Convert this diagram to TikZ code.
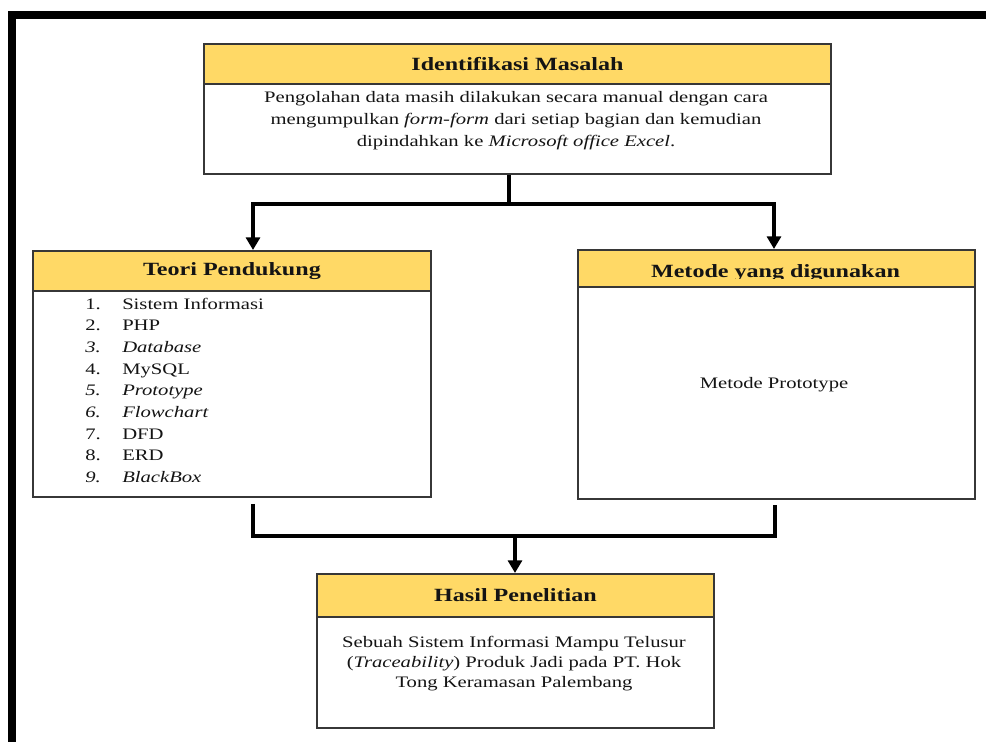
\documentclass[tikz,border=0pt]{standalone}
\usepackage{fontspec}
\setmainfont[FakeStretch=1.29]{Liberation Serif}
\usetikzlibrary{arrows.meta,calc}
\definecolor{hdrgold}{RGB}{255,217,102}
\definecolor{boxline}{RGB}{55,55,55}
\definecolor{inktext}{RGB}{20,20,20}

\begin{document}
\begin{tikzpicture}[x=0.75pt,y=-0.75pt,
  hdr/.style={draw=boxline, line width=1.4pt, fill=hdrgold, anchor=north west,
    inner sep=0pt, text=inktext, font=\fontsize{14}{17}\selectfont\bfseries},
  bodybox/.style={draw=boxline, line width=1.4pt, fill=white, anchor=north west, inner sep=0pt},
  txt/.style={text=inktext, align=center, inner sep=0pt},
  item/.style={text=inktext, inner sep=0pt, anchor=base west, font=\fontsize{12}{14}\selectfont},
  link/.style={line width=3pt, line join=miter},
  arr/.style={link, -{Triangle[width=10.5pt,length=9.5pt]}}]

\useasboundingbox (0,0) rectangle (986,742);

% page frame (top and left edges)
\draw[line width=6pt, line join=miter] (12,742) -- (12,15) -- (986,15);

% Identifikasi Masalah
\node[hdr, minimum width=627*0.75pt, minimum height=40*0.75pt] (idfH) at (203,43) {Identifikasi Masalah};
\node[bodybox, minimum width=627*0.75pt, minimum height=90*0.75pt] (idfB) at (203,83) {};
\node[txt, font=\fontsize{12}{16.5}\selectfont] (idfT) at (516,121)
  {Pengolahan data masih dilakukan secara manual dengan cara\\
   mengumpulkan \textit{form-form} dari setiap bagian dan kemudian\\
   dipindahkan ke \textit{Microsoft office Excel}.};

% Teori Pendukung
\node[hdr, minimum width=398*0.75pt, minimum height=40*0.75pt] (teoriH) at (32,250) {Teori Pendukung};
\node[bodybox, minimum width=398*0.75pt, minimum height=206*0.75pt] (teoriB) at (32,290) {};
\foreach \i/\num/\label [count=\k from 0] in {
    1/{1.}/{Sistem Informasi},
    2/{2.}/{PHP},
    3/{\textit{3.}}/{\textit{Database}},
    4/{4.}/{MySQL},
    5/{\textit{5.}}/{\textit{Prototype}},
    6/{\textit{6.}}/{\textit{Flowchart}},
    7/{7.}/{DFD},
    8/{8.}/{ERD},
    9/{\textit{9.}}/{\textit{BlackBox}}} {
  \node[item] (n\i) at (85,309+21.7*\k) {\num};
  \node[item] (t\i) at (122,309+21.7*\k) {\label};
}

% Metode yang digunakan (heading text frame cuts off the descenders)
\node[hdr, minimum width=397*0.75pt, minimum height=37*0.75pt] (metH) at (577,249) {};
\begin{scope}
  \clip (577,249) rectangle (974,278);
  \node[text=inktext, inner sep=0pt, anchor=base, font=\fontsize{14}{17}\selectfont\bfseries]
    (metL) at (775.5,277) {Metode yang digunakan};
\end{scope}
\node[bodybox, minimum width=397*0.75pt, minimum height=212*0.75pt] (metB) at (577,286) {};
\node[txt, font=\fontsize{12}{14}\selectfont] (metT) at (774,385) {Metode Prototype};

% Hasil Penelitian
\node[hdr, minimum width=397*0.75pt, minimum height=43*0.75pt] (hasilH) at (316,573) {Hasil Penelitian};
\node[bodybox, minimum width=397*0.75pt, minimum height=111*0.75pt] (hasilB) at (316,616) {};
\node[txt, font=\fontsize{12}{15}\selectfont] (hasilT) at (514,664)
  {Sebuah Sistem Informasi Mampu Telusur\\
   (\textit{Traceability}) Produk Jadi pada PT. Hok\\
   Tong Keramasan Palembang};

% connectors: split from the problem box
\coordinate (stem) at (509,204);
\coordinate (cL) at (253,204);
\coordinate (cR) at (774,204);
\draw[link] (idfB.south -| stem) -- (stem);
\draw[arr] (stem) -- (cL) -- (teoriH.north -| cL);
\draw[arr] (stem) -- (cR) -- (metH.north -| cR);

% connectors: merge into the result box
\coordinate (jL) at (253,536);
\coordinate (jR) at (775,536);
\coordinate (jM) at (515,536);
\draw[link] ($(teoriB.south -| jL)+(0,6)$) -- (jL) -- (jR) -- ($(metB.south -| jR)+(0,5)$);
\draw[arr] (jM) -- (hasilH.north -| jM);

\end{tikzpicture}
\end{document}
